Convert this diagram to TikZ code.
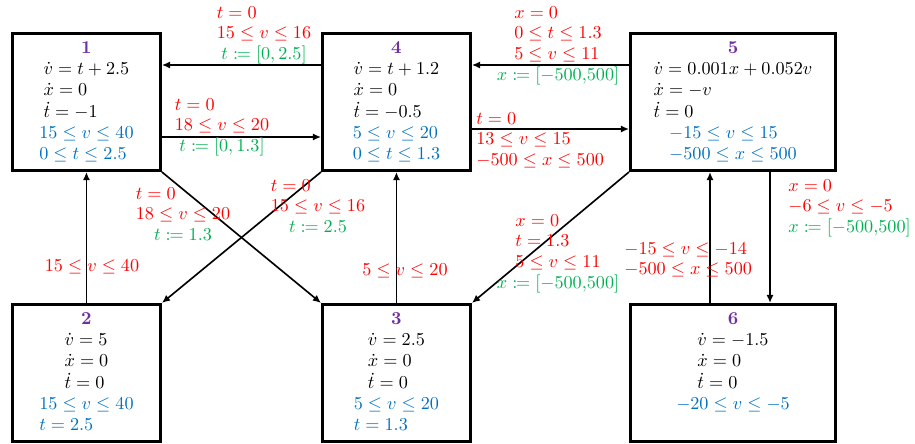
\documentclass[tikz,border=0pt]{standalone}
\usepackage{amsmath}
\usepackage{mathtools}
\usepackage{xcolor}
\usepackage{tikz}
\usetikzlibrary{positioning, calc, arrows.meta}

\definecolor{modeid}{RGB}{112,48,160}
\definecolor{guard}{RGB}{255,0,0}
\definecolor{reset}{RGB}{0,176,80}
\definecolor{inv}{RGB}{0,112,192}

\renewcommand{\arraystretch}{0.96}
\newcommand{\lrows}[1]{\begin{tabular}{@{}l@{}}#1\end{tabular}}
\newcommand{\grdrst}[2]{\begin{tabular}{@{}c@{}}\lrows{#1}\\\textcolor{reset}{#2}\end{tabular}}
\newcommand{\modebody}[3]{\begin{tabular}{@{}c@{}}\textcolor{modeid}{\bfseries #1}\\\lrows{#2}\\\textcolor{inv}{\lrows{#3}}\end{tabular}}

\begin{document}
\begin{tikzpicture}[x=0.55pt, y=-0.55pt,
    mode/.style={draw, line width=1.6pt, minimum width=81.4pt, minimum height=75.4pt, inner sep=0pt, anchor=north west},
    wide/.style={minimum width=112.8pt},
    modetext/.style={inner sep=0pt, anchor=north},
    lbl/.style={inner sep=0pt, text=guard},
    trans/.style={line width=0.9pt, -{Latex[length=4.5pt,width=4pt]}}]
  \useasboundingbox (0,0) rectangle (915,443);

  % Modes
  \node[mode] (m1) at (11,32) {};
  \node[modetext, below=3.8pt of m1.north] (d1) {\modebody{1}{$\dot v = t + 2.5$\\$\dot x = 0$\\$\dot t = -1$}{$15 \le v \le 40$\\$0 \le t \le 2.5$}};
  \node[mode] (m4) at (321,32) {};
  \node[modetext, below=3.8pt of m4.north] (d4) {\modebody{4}{$\dot v = t + 1.2$\\$\dot x = 0$\\$\dot t = -0.5$}{$5 \le v \le 20$\\$0 \le t \le 1.3$}};
  \node[mode, wide] (m5) at (629,32) {};
  \node[modetext, below=3.8pt of m5.north] (d5) {\modebody{5}{$\dot v = 0.001x + 0.052v$\\$\dot x = -v$\\$\dot t = 0$}{$-15 \le v \le 15$\\$-500 \le x \le 500$}};
  \node[mode] (m2) at (11,303) {};
  \node[modetext, below=3.8pt of m2.north] (d2) {\modebody{2}{$\dot v = 5$\\$\dot x = 0$\\$\dot t = 0$}{$15 \le v \le 40$\\$t = 2.5$}};
  \node[mode] (m3) at (321,303) {};
  \node[modetext, below=3.8pt of m3.north] (d3) {\modebody{3}{$\dot v = 2.5$\\$\dot x = 0$\\$\dot t = 0$}{$5 \le v \le 20$\\$t = 1.3$}};
  \node[mode, wide] (m6) at (629,303) {};
  \node[modetext, below=3.8pt of m6.north] (d6) {\modebody{6}{$\dot v = -1.5$\\$\dot x = 0$\\$\dot t = 0$}{$-20 \le v \le -5$}};

  % Transitions
  \draw[trans] ($(m4.north west)+(0,33)$) -- ($(m1.north east)+(0,33)$);
  \draw[trans] ($(m1.north east)+(0,105)$) -- ($(m4.north west)+(0,105)$);
  \draw[trans] ($(m5.north west)+(0,33)$) -- ($(m4.north east)+(0,33)$);
  \draw[trans] ($(m4.north east)+(0,97)$) -- ($(m5.north west)+(0,97)$);
  \draw[trans] (m2.north) -- (m1.south);
  \draw[trans] (m3.north) -- (m4.south);
  \draw[trans] (m1.south east) -- (m3.north west);
  \draw[trans] (m4.south west) -- (m2.north east);
  \draw[trans] (m5.south west) -- (m3.north east);
  \draw[trans] ($(m6.north west)+(81,0)$) -- ($(m5.south west)+(81,0)$);
  \draw[trans] ($(m5.south west)+(141,0)$) -- ($(m6.north west)+(141,0)$);

  % Guards and resets
  \node[lbl, anchor=north] (g41) at (264,3) {\grdrst{$t = 0$\\$15 \le v \le 16$}{$t \coloneqq [0, 2.5]$}};
  \node[lbl, anchor=north] (g14) at (222,95) {\grdrst{$t = 0$\\$18 \le v \le 20$}{$t \coloneqq [0, 1.3]$}};
  \node[lbl, anchor=north] (g54) at (558,3) {\grdrst{$x = 0$\\$0 \le t \le 1.3$\\$5 \le v \le 11$}{$x \coloneqq [-500{,}500]$}};
  \node[lbl, anchor=north west] (g45) at (476,109) {\lrows{$t = 0$\\$13 \le v \le 15$\\$-500 \le x \le 500$}};
  \node[lbl, anchor=north] (g13) at (183,184) {\grdrst{$t = 0$\\$18 \le v \le 20$}{$t \coloneqq 1.3$}};
  \node[lbl, anchor=north] (g42) at (318,176) {\grdrst{$t = 0$\\$15 \le v \le 16$}{$t \coloneqq 2.5$}};
  \node[lbl, anchor=north] (g53) at (558,211) {\grdrst{$x = 0$\\$t = 1.3$\\$5 \le v \le 11$}{$x \coloneqq [-500{,}500]$}};
  \node[lbl] (g21) at (92,267) {$15 \le v \le 40$};
  \node[lbl] (g34) at (405,271) {$5 \le v \le 20$};
  \node[lbl, anchor=north west] (g65) at (624,239) {\lrows{$-15 \le v \le -14$\\$-500 \le x \le 500$}};
  \node[lbl, anchor=north west] (g56) at (788,176) {\lrows{$x = 0$\\$-6 \le v \le -5$\\\textcolor{reset}{$x \coloneqq [-500{,}500]$}}};
\end{tikzpicture}
\end{document}
